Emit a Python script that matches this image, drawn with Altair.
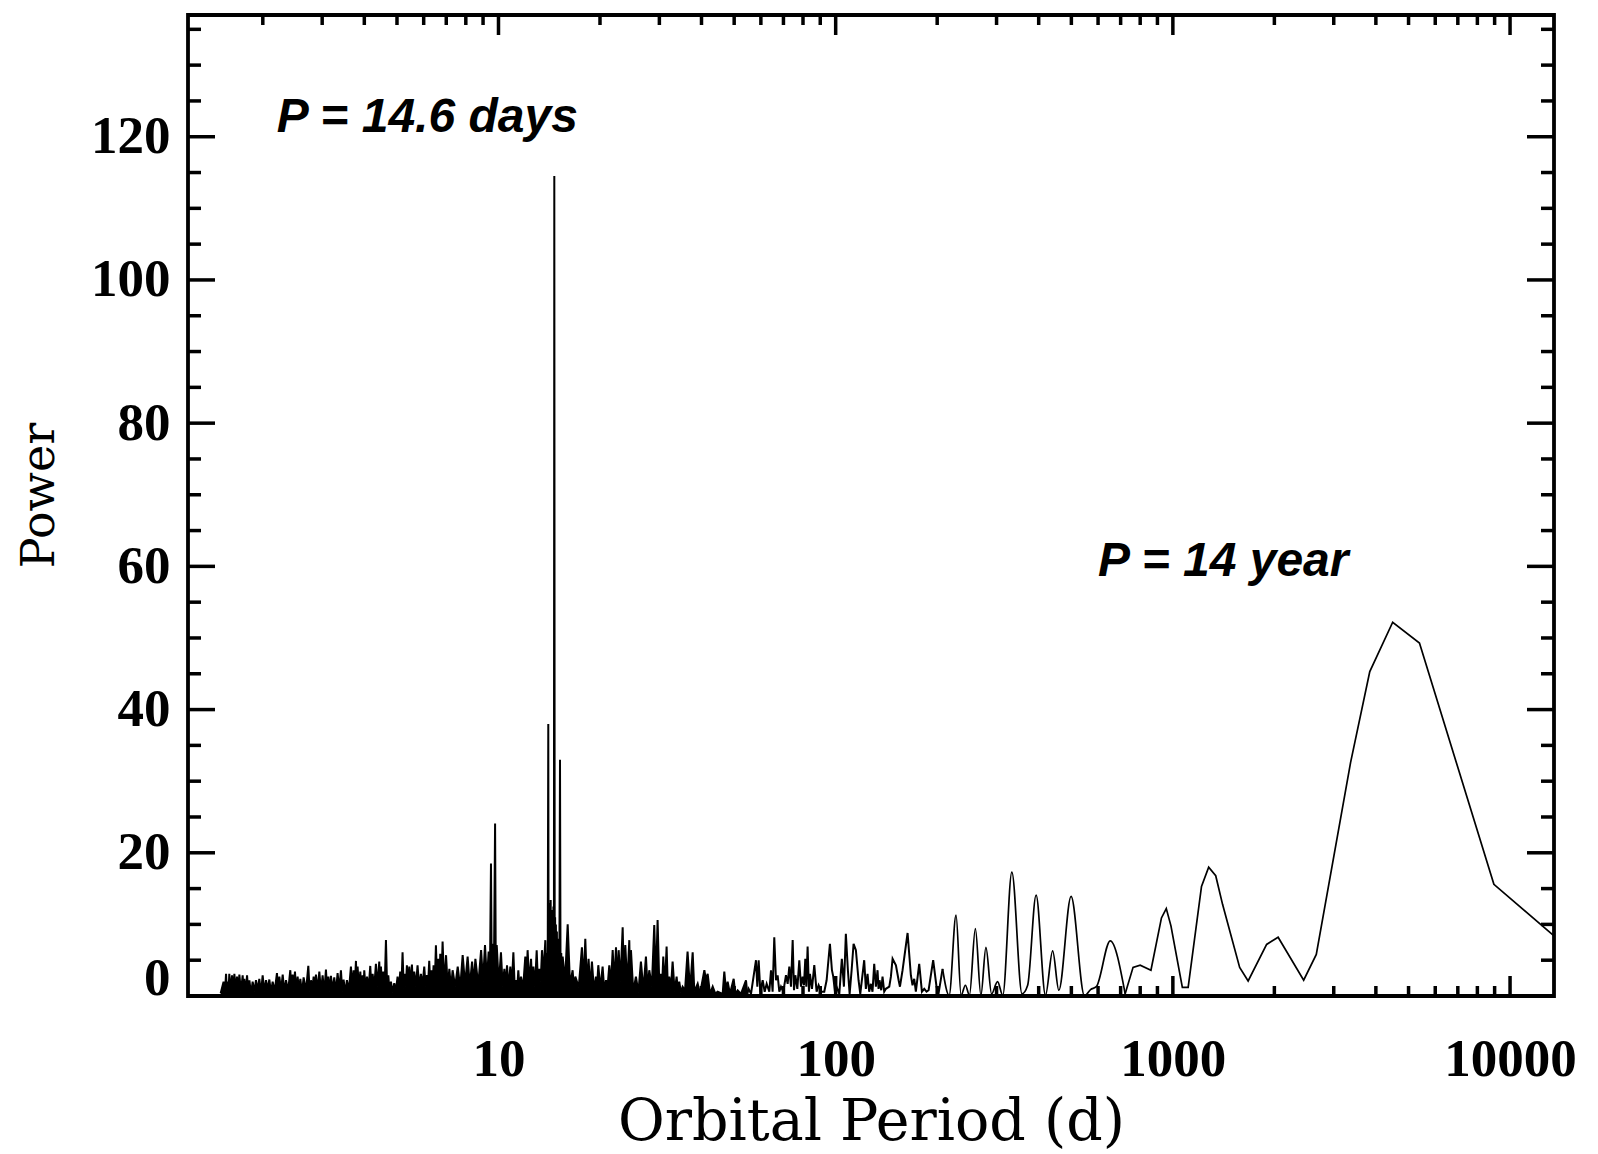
import altair as alt
import pandas as pd

# ---- periodogram readings (period in days, power) ----
noise_short = [
    (1.50, 0.4), (1.53, 2.0), (1.545, 0.5), (1.556, 3.1), (1.565, 0.6), (1.573, 2.0), (1.582, 0.3),
    (1.591, 3.1), (1.605, 0.7), (1.621, 2.9), (1.634, 0.4), (1.647, 3.1), (1.662, 0.8), (1.677, 2.7),
    (1.690, 0.3), (1.704, 3.0), (1.723, 0.6), (1.743, 2.9), (1.753, 0.9), (1.763, 2.4), (1.780, 0.4),
    (1.796, 2.9), (1.810, 0.7), (1.825, 2.2), (1.845, 0.3), (1.866, 2.0), (1.888, 0.6), (1.909, 2.2),
    (1.930, 0.8), (1.953, 2.4), (1.975, 0.4), (1.998, 2.9), (2.020, 0.6), (2.044, 2.2), (2.068, 0.9),
    (2.091, 2.3), (2.115, 0.5), (2.139, 2.0), (2.170, 0.7), (2.203, 3.2), (2.220, 0.4), (2.239, 2.7),
    (2.265, 0.8), (2.291, 3.0), (2.317, 0.5), (2.343, 2.2), (2.378, 0.7), (2.413, 3.6), (2.432, 0.9),
    (2.452, 3.0), (2.471, 0.6), (2.491, 3.4), (2.514, 0.5), (2.537, 2.7), (2.560, 0.8), (2.584, 2.4),
    (2.613, 0.4), (2.643, 2.6), (2.686, 0.7), (2.729, 4.2), (2.754, 0.6), (2.779, 2.2), (2.804, 0.9),
    (2.830, 2.7), (2.852, 0.5), (2.875, 3.0), (2.908, 0.8), (2.942, 3.4), (2.975, 0.6), (3.009, 2.9),
    (3.043, 0.4), (3.078, 3.7), (3.103, 0.9), (3.128, 2.7), (3.156, 0.6), (3.185, 2.8), (3.221, 0.8),
    (3.258, 2.6), (3.295, 0.5), (3.333, 3.2), (3.371, 0.9), (3.410, 3.6), (3.441, 0.6), (3.473, 2.3),
    (3.512, 0.4), (3.552, 2.2), (3.601, 0.8), (3.651, 4.1), (3.684, 1.0), (3.718, 3.6), (3.748, 1.2),
    (3.778, 4.9), (3.800, 1.4), (3.821, 4.1), (3.856, 0.9), (3.892, 3.4), (3.923, 0.7), (3.954, 2.9),
    (3.977, 1.0), (3.999, 3.6), (4.036, 0.8), (4.073, 2.7), (4.120, 1.1), (4.166, 4.2), (4.200, 0.9),
    (4.233, 3.1), (4.281, 1.2), (4.330, 4.5), (4.380, 1.3), (4.430, 4.8), (4.455, 1.5), (4.481, 4.1),
    (4.517, 1.0), (4.553, 3.4), (4.595, 0.8), (4.637, 7.8), (4.675, 1.0), (4.712, 2.9), (4.755, 0.4),
    (4.797, 2.0), (4.852, 0.5), (4.908, 1.8), (4.964, 0.7), (5.020, 2.7), (5.066, 0.9), (5.112, 3.4),
    (5.153, 1.1), (5.194, 6.1), (5.236, 1.0), (5.278, 3.1), (5.314, 1.3), (5.350, 4.3), (5.393, 1.2),
    (5.437, 4.1), (5.487, 1.4), (5.537, 4.4), (5.581, 1.0), (5.626, 3.4), (5.690, 1.3), (5.754, 4.3),
    (5.820, 1.2), (5.887, 3.1), (5.955, 1.5), (6.023, 4.1), (6.078, 1.3), (6.134, 2.9), (6.183, 1.6),
    (6.232, 4.9), (6.282, 1.2), (6.332, 3.6), (6.375, 1.4), (6.419, 4.3), (6.471, 1.6), (6.523, 7.1),
    (6.575, 1.8), (6.628, 5.2), (6.673, 1.5), (6.719, 5.9), (6.773, 1.7), (6.827, 7.6),
]

noise_mid = [
    (6.90, 1.5), (6.99, 5.7), (7.07, 1.2), (7.15, 3.8), (7.23, 1.0), (7.31, 3.6), (7.44, 1.3),
    (7.57, 4.1), (7.70, 1.1), (7.83, 5.7), (7.96, 1.6), (8.10, 5.5), (8.22, 1.4), (8.35, 4.8),
    (8.45, 1.7), (8.54, 5.2), (8.71, 1.5), (8.88, 6.4), (9.00, 2.0), (9.12, 7.1), (9.24, 2.2),
    (9.35, 6.2), (9.43, 2.4), (9.50, 18.5), (9.55, 2.6), (9.61, 7.3), (9.69, 2.4), (9.77, 24.1),
    (9.82, 2.2), (9.88, 7.1), (10.02, 1.6), (10.17, 6.1), (10.29, 1.3), (10.41, 3.8), (10.50, 1.1),
    (10.60, 4.3), (10.72, 1.0), (10.84, 4.1), (10.95, 1.4), (11.07, 6.1), (11.17, 1.2), (11.27, 2.2),
    (11.36, 0.9), (11.45, 3.6), (11.55, 0.8), (11.66, 2.7), (11.83, 1.1), (12.01, 5.5), (12.10, 1.4),
    (12.20, 6.4), (12.34, 1.6), (12.49, 5.2), (12.59, 1.2), (12.69, 4.1), (12.83, 1.3), (12.98, 6.4),
    (13.10, 1.5), (13.22, 3.8), (13.34, 2.0), (13.46, 6.4), (13.60, 3.0), (13.77, 7.8), (13.85, 1.5),
    (13.92, 6.0), (13.97, 1.0), (14.00, 7.0), (14.05, 38.0), (14.08, 2.0), (14.12, 12.0), (14.16, 1.5),
    (14.20, 13.0), (14.24, 2.0), (14.28, 13.4), (14.32, 1.5), (14.36, 12.0), (14.40, 2.0), (14.45, 11.5),
    (14.50, 1.0), (14.55, 12.5), (14.60, 2.0), (14.64, 114.5), (14.68, 1.5), (14.72, 11.0), (14.76, 1.0),
    (14.80, 10.0), (14.85, 1.2), (14.90, 9.0), (14.95, 1.0), (15.00, 8.0), (15.05, 1.0), (15.10, 7.0),
    (15.15, 1.0), (15.22, 33.0), (15.28, 1.0), (15.35, 6.0), (15.42, 1.0), (15.50, 5.5), (15.75, 2.0),
    (16.04, 10.0), (16.30, 1.5), (16.59, 3.6), (16.75, 0.8), (16.90, 2.7), (17.30, 1.2), (17.68, 6.8),
    (17.90, 1.8), (18.09, 8.0), (18.30, 1.4), (18.50, 5.2), (18.70, 1.0), (18.93, 4.8), (19.20, 0.7),
    (19.45, 2.7), (19.60, 1.2), (19.77, 4.3), (20.05, 1.0), (20.36, 4.1), (20.60, 0.7), (20.84, 2.2),
    (21.05, 1.1), (21.31, 4.3), (21.55, 1.5), (21.81, 6.4), (22.05, 1.8), (22.31, 6.8), (22.50, 1.6),
    (22.72, 6.4), (23.00, 2.0), (23.35, 9.6), (23.55, 1.8), (23.77, 7.1), (24.10, 1.5), (24.43, 7.8),
    (24.57, 1.4), (24.71, 6.4), (25.10, 0.6), (25.56, 2.7), (26.00, 0.5), (26.45, 4.8), (26.90, 0.8),
    (27.37, 5.5), (27.70, 0.9), (28.00, 3.6), (28.50, 1.3), (28.97, 9.9), (29.30, 2.0), (29.64, 10.6),
    (30.00, 1.2), (30.32, 3.1), (30.55, 1.0), (30.81, 5.5), (31.15, 1.1), (31.52, 6.9), (31.80, 0.7),
    (32.10, 2.7), (32.45, 0.9), (32.84, 4.8), (33.30, 0.6), (33.75, 2.7), (34.05, 0.7), (34.36, 2.0),
    (34.75, 0.5), (35.16, 1.3), (35.75, 0.8), (36.37, 6.2), (37.00, 0.8),
    (37.66, 6.1), (38.09, 0.6), (38.97, 1.7), (39.60, 0.3), (40.79, 3.6), (41.26, 2.2), (41.72, 3.1),
    (42.40, 0.3), (43.18, 1.3), (43.98, 0.3), (44.67, 0.6), (46.22, 0.3), (46.74, 3.4), (47.28, 0.8),
    (47.82, 2.0), (48.59, 0.3), (49.83, 2.4), (50.39, 0.3), (51.21, 0.8), (52.38, 0.3), (54.20, 2.2),
    (54.70, 0.3),
]

noise_long = [
    (54.70, 0.3), (55.20, 1.0), (56.09, 0.3), (58.03, 5.0), (58.57, 1.3), (59.10, 5.0), (59.78, 0.6),
    (60.74, 2.2), (61.58, 0.6), (62.42, 1.7), (63.56, 0.6), (64.30, 3.6), (65.01, 0.6), (65.75, 8.2),
    (66.52, 2.2), (67.28, 2.9), (68.05, 0.6), (68.83, 1.3), (69.93, 0.6), (71.22, 2.9), (72.04, 1.7),
    (72.86, 4.1), (73.70, 1.3), (74.55, 7.8), (75.23, 0.8), (75.92, 2.9), (76.96, 1.0), (78.00, 5.0),
    (78.90, 1.3), (79.80, 2.7), (80.53, 1.5), (81.26, 5.2), (81.82, 1.3), (82.56, 6.9), (83.32, 0.6),
    (83.89, 3.1), (85.04, 1.0), (86.41, 4.3), (87.79, 0.6), (89.00, 1.5), (90.63, 0.6), (92.50, 0.6),
    (94.00, 2.2), (96.14, 7.3), (97.48, 3.6), (98.36, 2.7), (99.49, 0.6), (100.6, 1.3), (102.5, 0.3),
    (104.3, 5.2), (105.8, 1.3), (107.2, 8.7), (108.7, 3.6), (110.0, 0.3), (111.5, 3.6), (113.0, 7.3),
    (114.8, 6.4), (116.9, 2.2), (118.3, 0.3), (121.5, 5.0), (122.9, 1.0), (124.3, 3.1), (125.7, 0.6),
    (127.2, 1.7), (128.6, 0.6), (130.1, 4.5), (131.6, 1.3), (133.1, 3.6), (134.0, 1.0), (134.9, 2.2),
    (136.5, 0.8), (137.7, 2.7), (139.3, 0.6), (140.9, 1.0), (144.2, 1.3), (145.8, 2.7), (147.5, 5.2),
    (150.9, 4.3), (153.7, 2.2), (155.1, 1.3), (157.9, 3.6), (163.4, 8.8), (167.1, 2.9), (169.0, 1.5),
    (171.0, 2.4), (172.9, 0.6), (176.9, 4.5), (180.2, 0.6), (183.1, 1.0), (186.0, 0.6), (188.6, 0.8),
    (194.6, 5.0), (199.1, 1.3), (201.8, 0.3), (207.5, 3.8),
]

smooth_part = [
    (207.5, 3.8), (217, 0.1), (227.5, 11.3), (235.5, 0.1), (242.5, 1.5), (249.3, 0.1), (259.6, 9.4),
    (269.6, 0.1), (279, 6.8), (290, 0.3), (302, 2.0), (313, 0.1), (333, 17.3), (357, 0.3), (371, 1.5),
    (393, 14.1), (419, 0.1), (440, 6.3), (459, 0.8), (499, 13.9), (547, 0.0), (570, 0.9), (593, 1.3),
    (652, 7.7), (722, 0.3),
]

coarse_part = [
    (722, 0.3), (762, 4.0), (800, 4.3), (861, 3.6), (925, 10.9), (956, 12.2), (987, 9.8), (1067, 1.2),
    (1110, 1.2), (1216, 15.3), (1277, 18.0), (1340, 16.8), (1404, 12.8), (1578, 4.0), (1672, 2.1),
    (1897, 7.2), (2052, 8.2), (2443, 2.2), (2663, 5.8), (3365, 32.6), (3837, 45.3), (4487, 52.2),
    (5387, 49.3), (8955, 15.6), (13500, 8.4),
]

# ---- axes ----
x_domain = [1.2, 13500]
y_domain = [0, 137]
x_major = [10, 100, 1000, 10000]
x_minor = [2, 3, 4, 5, 6, 7, 8, 9, 20, 30, 40, 50, 60, 70, 80, 90,
           200, 300, 400, 500, 600, 700, 800, 900, 2000, 3000, 4000, 5000, 6000, 7000, 8000, 9000]
y_major = [0, 20, 40, 60, 80, 100, 120]
y_minor = [5, 10, 15, 25, 30, 35, 45, 50, 55, 65, 70, 75, 85, 90, 95, 105, 110, 115, 125, 130, 135]

# ---- annotations ----
ann_text = ["P = 14.6 days", "P = 14 year"]
ann_period = [2.20, 600]
ann_power = [120.6, 58.6]

W, H = 1366, 981
XMAJ, XMIN, YMAJ, YMIN = 20, 10, 27, 13

xs = alt.Scale(type="log", domain=x_domain, nice=False)
ys = alt.Scale(domain=y_domain, nice=False, zero=True)

df_dense = pd.DataFrame(noise_short + noise_mid, columns=["period", "power"])
df_long = pd.DataFrame(noise_long, columns=["period", "power"])
df_smooth = pd.DataFrame(smooth_part, columns=["period", "power"])
df_coarse = pd.DataFrame(coarse_part, columns=["period", "power"])

x_axis = alt.Axis(
    values=x_major, format="d", ticks=False, tickSize=0, domain=False, grid=False,
    labelFont="Liberation Serif", labelFontSize=53, labelFontWeight="bold", labelColor="black",
    labelPadding=37, labelFlush=False,
    title="Orbital Period (d)", titleFont="DejaVu Serif", titleFontSize=57,
    titleFontWeight="normal", titleColor="black", titleX=W / 2, titleY=143,
    titleAlign="center", titleBaseline="alphabetic",
)
y_axis = alt.Axis(
    values=y_major, format="d", ticks=False, tickSize=0, domain=False, grid=False,
    labelFont="Liberation Serif", labelFontSize=53, labelFontWeight="bold", labelColor="black",
    labelPadding=18, labelFlush=True, labelFlushOffset=9,
    title="Power", titleFont="DejaVu Serif", titleFontSize=46, titleFontWeight="normal",
    titleColor="black", titleX=-135, titleY=480, titleAngle=270, titleAlign="center",
    titleBaseline="alphabetic",
)

X = lambda f: alt.X(f, scale=xs, axis=x_axis)
Y = lambda f: alt.Y(f, scale=ys, axis=y_axis)

area_dense = alt.Chart(df_dense).mark_area(color="black", opacity=1).encode(
    x=X("period:Q"), y=Y("power:Q"),
)
line_dense = alt.Chart(df_dense).mark_line(color="black", strokeWidth=2.0).encode(
    x=X("period:Q"), y=Y("power:Q"),
)
line_long = alt.Chart(df_long).mark_line(color="black", strokeWidth=2.0).encode(
    x=X("period:Q"), y=Y("power:Q"),
)
line_smooth = alt.Chart(df_smooth).mark_line(color="black", strokeWidth=1.7, interpolate="monotone").encode(
    x=X("period:Q"), y=Y("power:Q"),
)
line_coarse = alt.Chart(df_coarse).mark_line(color="black", strokeWidth=1.7).encode(
    x=X("period:Q"), y=Y("power:Q"),
)

def xticks(vals, y0, y1):
    return alt.Chart(pd.DataFrame({"v": vals})).mark_rule(color="black", strokeWidth=3.5).encode(
        x=X("v:Q"), y=alt.value(y0), y2=alt.value(y1))

def yticks(vals, x0, x1):
    return alt.Chart(pd.DataFrame({"v": vals})).mark_rule(color="black", strokeWidth=3.5).encode(
        y=Y("v:Q"), x=alt.value(x0), x2=alt.value(x1))

tick_layers = [
    xticks(x_major, H, H - XMAJ), xticks(x_minor, H, H - XMIN),
    xticks(x_major, 0, XMAJ), xticks(x_minor, 0, XMIN),
    yticks(y_major, 0, YMAJ), yticks(y_minor, 0, YMIN),
    yticks(y_major, W, W - YMAJ), yticks(y_minor, W, W - YMIN),
]

ann = alt.Chart(pd.DataFrame({"t": ann_text, "period": ann_period, "power": ann_power})).mark_text(
    font="Liberation Sans", fontSize=48, fontWeight="bold", fontStyle="italic",
    align="left", baseline="alphabetic", color="black",
).encode(
    x=X("period:Q"), y=Y("power:Q"), text="t:N",
)

chart = alt.layer(area_dense, line_dense, line_long, line_smooth, line_coarse, *tick_layers, ann).properties(
    width=W, height=H,
    padding={"left": 188, "top": 15, "right": 44, "bottom": 158},
    autosize=alt.AutoSizeParams(type="none"),
    background="white",
).configure_view(stroke="black", strokeWidth=3.8)

chart.save("out.html", embed_options={"renderer": "svg", "actions": False})
